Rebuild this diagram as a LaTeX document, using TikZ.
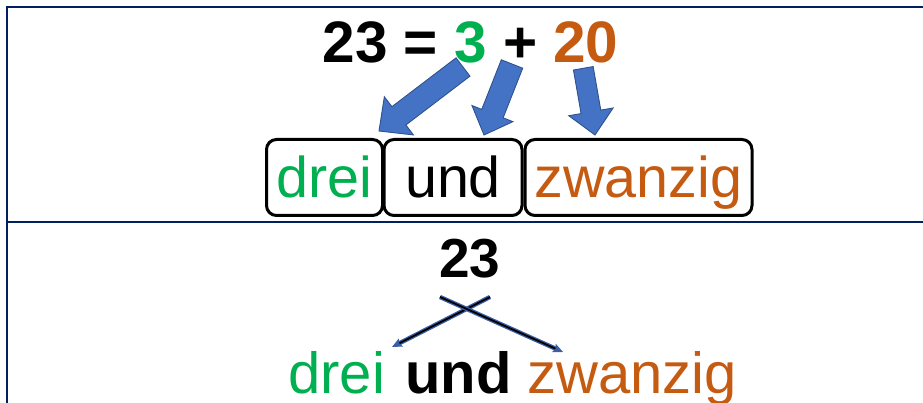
\documentclass[tikz,border=0pt]{standalone}
\usepackage{fontspec}
\setmainfont{Liberation Sans}
\usetikzlibrary{calc,arrows.meta}
\definecolor{navy}{HTML}{002060}
\definecolor{dgreen}{HTML}{00B050}
\definecolor{dorange}{HTML}{C55A11}
\definecolor{afill}{HTML}{4472C4}
\definecolor{aline}{HTML}{2F528F}
\definecolor{xline}{HTML}{3B5EA6}
\newcommand{\blockarrow}[5]{%
  \coordinate (#1-b) at ($(#2)!#5!(#1)$);
  \draw[blockarr] ($(#1)!#3!90:(#2)$) -- ($(#1-b)!#3!90:(#2)$) -- ($(#1-b)!#4!90:(#2)$)
    -- (#2) -- ($(#1-b)!#4!-90:(#2)$) -- ($(#1-b)!#3!-90:(#2)$) -- ($(#1)!#3!-90:(#2)$) -- cycle;}
\tikzset{
  frame/.style={draw=navy, line width=2.6pt, line join=miter},
  eqfont/.style={font=\fontsize{58.5}{70}\selectfont\bfseries, inner sep=0pt},
  wordbox/.style={draw=black, line width=3pt, rounded corners=10pt, minimum height=76pt,
    inner sep=0pt, text height=48pt, text depth=8pt, font=\fontsize{57.5}{68}\selectfont},
  word/.style={font=\fontsize{58}{68}\selectfont, inner sep=0pt, anchor=base west},
  blockarr/.style={fill=afill, draw=aline, line width=0.9pt, line join=miter},
  crossarr/.style={draw=xline, double=black, line width=1.3pt, double distance=1.8pt,
    -{Stealth[length=10pt, width=9pt, inset=2pt]}}
}
\begin{document}
\begin{tikzpicture}[x=1pt, y=-1pt]
\useasboundingbox (0,0) rectangle (923,403);
% frame
\draw[frame] (7,403) -- (7,7) -- (923,7);
\draw[frame] (7,222) -- (923,222);
% top equation
\node[eqfont, anchor=base] (eq) at (470.5,63) {23 = \textcolor{dgreen}{3} + \textcolor{dorange}{20}};
% boxes
\node[wordbox, minimum width=116pt, text=dgreen] (b1) at (324.5,177.5) {drei};
\node[wordbox, minimum width=138pt] (b2) at (453,177.5) {und};
\node[wordbox, minimum width=227pt, text=dorange] (b3) at (638.5,177.5) {zwanzig};
% block arrows
\coordinate (t1) at (463,67);   \coordinate (h1) at (379,131);
\coordinate (t2) at (512,64);   \coordinate (h2) at (484,135);
\coordinate (t3) at (583.3,68.3); \coordinate (h3) at (595,135);
\blockarrow{t1}{h1}{11.5pt}{24pt}{25pt}
\blockarrow{t2}{h2}{11.5pt}{22pt}{23pt}
\blockarrow{t3}{h3}{10pt}{22.5pt}{23.5pt}
% bottom part
\node[eqfont, font=\fontsize{55}{66}\selectfont\bfseries, anchor=base] (n23) at (470,277) {23};
\node[word, text=dgreen] (w1) at (288,393) {drei};
\node[word, font=\fontsize{58}{68}\selectfont\bfseries] (w2) at (405,393) {und};
\node[word, text=dorange] (w3) at (527,393) {zwanzig};
\coordinate (s1) at (490,297); \coordinate (e1) at (392,347);
\coordinate (s2) at (440,297); \coordinate (e2) at (563,352);
\draw[crossarr] (s1) -- (e1);
\draw[crossarr] (s2) -- (e2);
\end{tikzpicture}
\end{document}
